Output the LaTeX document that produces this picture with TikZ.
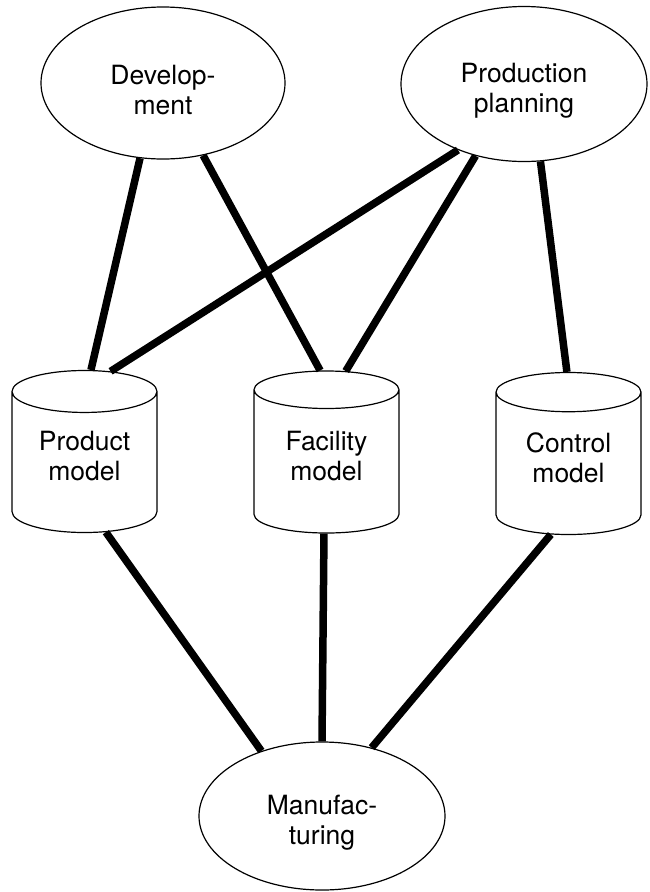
\documentclass[tikz,border=0pt]{standalone}
\usepackage{fontspec}
\setmainfont{TeX Gyre Heros}
\usetikzlibrary{shapes.geometric}

% taller first line, so that the two lines sit a little low in the ovals
\newcommand{\ovalstrut}{\rule{0pt}{33pt}}

\tikzset{
  label text/.style={font=\fontsize{26.5}{30}\selectfont, align=center, text=black},
  oval/.style={ellipse, draw=black, line width=1.2pt, fill=white, inner sep=0pt, label text},
  store/.style={cylinder, shape border rotate=90, aspect=0.46, draw=black, line width=1.2pt,
    fill=white, inner sep=0pt, minimum width=145pt, minimum height=162pt, label text,
    anchor=shape center, execute at end node={\rule[-12.5pt]{0pt}{0pt}}},
  link/.style={draw=black, line width=7.5pt}
}

\begin{document}
\begin{tikzpicture}[x=1pt, y=-1pt]
  \useasboundingbox (0,0) rectangle (650,892);

  % activities
  \node[oval, minimum width=244pt, minimum height=152pt] (dev)  at (163,83)  {\ovalstrut Develop-\\ment};
  \node[oval, minimum width=246pt, minimum height=155pt] (plan) at (524,84)  {\ovalstrut Production\\planning};
  \node[oval, minimum width=246pt, minimum height=148pt] (mfg)  at (322,816) {\ovalstrut Manufac-\\turing};

  % data stores
  \node[store] (prod) at (84.5,451.5) {Product\\model};
  \node[store] (fac)  at (326.5,452)  {Facility\\model};
  \node[store] (ctrl) at (568.5,453.5) {Control\\model};

  % links
  \path[link] (dev.-107)  -- (prod.86);
  \path[link] (dev.-61.6) -- (fac.94.6);
  \path[link] (plan.-135.4) -- (prod.74);
  \path[link] (plan.-124.9) -- (fac.78.3);
  \path[link] (plan.-78.4) -- (ctrl.91.8);
  \path[link] (prod.-73.5) -- (mfg.133);
  \path[link] (fac.-92.5)  -- (mfg.90);
  \path[link] (ctrl.-104.5) -- (mfg.54.8);
\end{tikzpicture}
\end{document}
